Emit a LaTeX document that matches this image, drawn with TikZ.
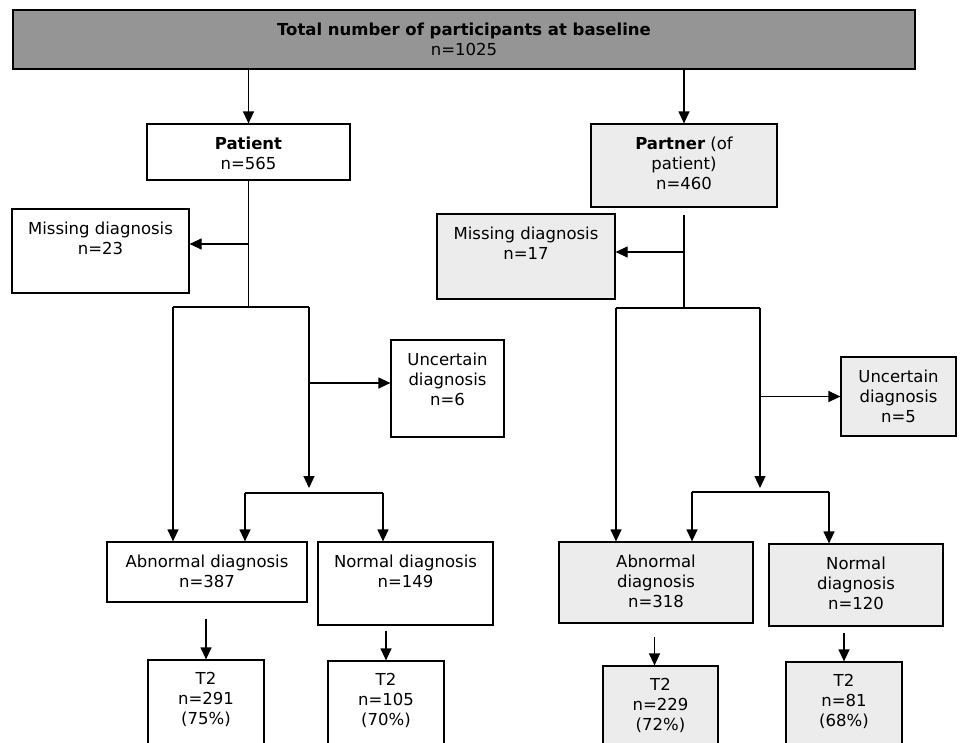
\documentclass[tikz,border=0pt]{standalone}
\usepackage{fontspec}
\setmainfont{DejaVu Sans}
\usetikzlibrary{positioning,arrows.meta,calc}
\definecolor{darkbox}{HTML}{959595}
\definecolor{lightbox}{HTML}{ECECEC}
\tikzset{
	box/.style={draw, line width=1.2pt, inner sep=0pt},
	txt/.style={align=center, inner sep=0pt, font=\fontsize{16.5}{20}\selectfont},
	ln/.style={line width=1.2pt},
	arr/.style={ln, -{Triangle[width=11pt,length=12pt]}},
}
\begin{document}
\begin{tikzpicture}[x=1pt, y=-1pt]
	\useasboundingbox (0,0) rectangle (960,742);

	% boxes
	\node[box, fill=darkbox, minimum width=902pt, minimum height=59pt] (tot) at (464,39.5) {};
	\node[box, minimum width=203pt, minimum height=56pt] (pat) at (248.5,152) {};
	\node[box, fill=lightbox, minimum width=186pt, minimum height=83pt] (par) at (684,165.5) {};
	\node[box, minimum width=177pt, minimum height=84pt] (misL) at (100.5,251) {};
	\node[box, fill=lightbox, minimum width=178pt, minimum height=85pt] (misR) at (526,256.5) {};
	\node[box, minimum width=113pt, minimum height=97pt] (uncL) at (447.5,388.5) {};
	\node[box, fill=lightbox, minimum width=115pt, minimum height=79pt] (uncR) at (898.5,396.5) {};
	\node[box, minimum width=200pt, minimum height=60pt] (abnL) at (207,572) {};
	\node[box, minimum width=175pt, minimum height=83pt] (norL) at (405.5,583.5) {};
	\node[box, fill=lightbox, minimum width=194pt, minimum height=81pt] (abnR) at (656,582.5) {};
	\node[box, fill=lightbox, minimum width=174pt, minimum height=82pt] (norR) at (856,585) {};
	\node[box, minimum width=116pt, minimum height=100pt] (t2a) at (206,710) {};
	\node[box, minimum width=116pt, minimum height=100pt] (t2b) at (386,711) {};
	\node[box, fill=lightbox, minimum width=115pt, minimum height=100pt] (t2c) at (660.5,716) {};
	\node[box, fill=lightbox, minimum width=116pt, minimum height=100pt] (t2d) at (844,712) {};

	% texts
	\node[txt, below=13pt of tot.north] (totT) {\textbf{Total number of participants at baseline}\\n=1025};
	\node[txt, below=13pt of pat.north] (patT) {\textbf{Patient}\\n=565};
	\node[txt, below=13pt of par.north] (parT) {\textbf{Partner} (of\\patient)\\n=460};
	\node[txt, below=13pt of misL.north] (misLT) {Missing diagnosis\\n=23};
	\node[txt, below=13pt of misR.north] (misRT) {Missing diagnosis\\n=17};
	\node[txt, below=13pt of uncL.north] (uncLT) {Uncertain\\diagnosis\\n=6};
	\node[txt, below=13pt of uncR.north] (uncRT) {Uncertain\\diagnosis\\n=5};
	\node[txt, below=13pt of abnL.north] (abnLT) {Abnormal diagnosis\\n=387};
	\node[txt, below=13pt of norL.north] (norLT) {Normal diagnosis\\n=149};
	\node[txt, below=13pt of abnR.north] (abnRT) {Abnormal\\diagnosis\\n=318};
	\node[txt, below=13pt of norR.north] (norRT) {Normal\\diagnosis\\n=120};
	\node[txt, below=13pt of t2a.north] (t2aT) {T2\\n=291\\(75\%)};
	\node[txt, below=13pt of t2b.north] (t2bT) {T2\\n=105\\(70\%)};
	\node[txt, below=13pt of t2c.north] (t2cT) {T2\\n=229\\(72\%)};
	\node[txt, below=13pt of t2d.north] (t2dT) {T2\\n=81\\(68\%)};

	% split points
	\coordinate (lA) at (173,307);
	\coordinate (lB) at (309,307);
	\coordinate (lE) at (309,488);
	\coordinate (lC) at (245,493);
	\coordinate (lD) at (383,493);
	\coordinate (rA) at (616,308);
	\coordinate (rB) at (760,308);
	\coordinate (rE) at (760,488);
	\coordinate (rC) at (692,492);
	\coordinate (rD) at (829,492);
	\coordinate (misLin) at ([yshift=7pt]misL.east);
	\coordinate (misRin) at ([yshift=4.5pt]misR.east);
	\coordinate (uncLin) at ([yshift=5.5pt]uncL.west);

	% patient side
	\draw[arr] (pat.north |- tot.south) -- (pat.north);
	\draw[ln] (pat.south) -- (pat.south |- lA);
	\draw[arr] (pat.south |- misLin) -- (misLin);
	\draw[ln] (lA) -- (lB);
	\draw[arr] (lA) -- (lA |- abnL.north);
	\draw[arr] (lB) -- (lE);
	\draw[arr] (lB |- uncLin) -- (uncLin);
	\draw[ln] (lC) -- (lD);
	\draw[arr] (lC) -- (lC |- abnL.north);
	\draw[arr] (lD) -- (lD |- norL.north);
	\draw[arr] ($(abnL.south -| t2a.north)+(0,16)$) -- (t2a.north);
	\draw[arr] ($(norL.south -| t2b.north)+(0,5)$) -- (t2b.north);

	% partner side
	\draw[arr] (par.north |- tot.south) -- (par.north);
	\draw[ln] ($(par.south)+(0,7)$) -- (par.south |- rA);
	\draw[arr] (par.south |- misRin) -- (misRin);
	\draw[ln] (rA) -- (rB);
	\draw[arr] (rA) -- (rA |- abnR.north);
	\draw[arr] (rB) -- (rE);
	\draw[arr] (rB |- uncR.west) -- (uncR.west);
	\draw[ln] (rC) -- (rD);
	\draw[arr] (rC) -- (rC |- abnR.north);
	\draw[arr] (rD) -- (rD |- norR.north);
	\draw[arr] ($(abnR.south -| t2c.north)+(-6,13)$) -- ($(t2c.north)+(-6,0)$);
	\draw[arr] ($(norR.south -| t2d.north)+(0,6)$) -- (t2d.north);

\end{tikzpicture}
\end{document}
